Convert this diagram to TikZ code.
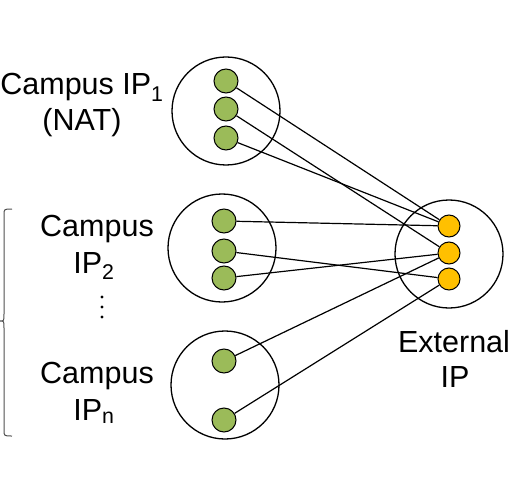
\documentclass[tikz,border=0pt]{standalone}
\usepackage{fontspec}
\setmainfont{Liberation Sans}
\definecolor{grn}{HTML}{9BBB59}
\definecolor{ylw}{HTML}{FFC000}
\definecolor{brc}{HTML}{505050}
\begin{document}
\begin{tikzpicture}[x=1bp,y=-1bp,
  group/.style={circle,draw=black,line width=1.3bp,minimum size=108bp,inner sep=0pt},
  gdot/.style={circle,draw=black,line width=1bp,fill=grn,minimum size=24bp,inner sep=0pt},
  ydot/.style={circle,draw=black,line width=1bp,fill=ylw,minimum size=22bp,inner sep=0pt},
  lbl/.style={anchor=base,inner sep=0pt,font=\fontsize{30.5bp}{36bp}\selectfont},
  link/.style={line width=1.2bp,black}]
\useasboundingbox (0,0) rectangle (527,486);
% group circles
\node[group] (c1) at (226,111) {};
\node[group] (c2) at (222,248) {};
\node[group] (c3) at (225,385) {};
\node[group] (ce) at (449,254) {};
% green nodes
\node[gdot] (g1a) at (226,81) {};
\node[gdot] (g1b) at (226,109) {};
\node[gdot] (g1c) at (226,138) {};
\node[gdot] (g2a) at (224,221) {};
\node[gdot] (g2b) at (224,251) {};
\node[gdot] (g2c) at (224,278) {};
\node[gdot] (g3a) at (224,361) {};
\node[gdot] (g3b) at (224,420) {};
% yellow nodes
\node[ydot] (y1) at (449,226) {};
\node[ydot] (y2) at (449,253) {};
\node[ydot] (y3) at (449,279) {};
% links
\draw[link] (g1a) -- (y1);
\draw[link] (g1b) -- (y2);
\draw[link] (g1c) -- (y1);
\draw[link] (g2a) -- (y1);
\draw[link] (g2b) -- (y3);
\draw[link] (g2c) -- (y2);
\draw[link] (g3a) -- (y2);
\draw[link] (g3b) -- (y3);
% labels
\node[lbl] (t1a) at (82,95) {Campus IP\textsubscript{1}};
\node[lbl] (t1b) at (82,131) {(NAT)};
\node[lbl] (t2a) at (97,236) {Campus};
\node[lbl] (t2b) at (94,273) {IP\textsubscript{2}};
\node[lbl] (t3a) at (97,383) {Campus};
\node[lbl] (t3b) at (94,420) {IP\textsubscript{n}};
\node[lbl] (te1) at (454,352) {External};
\node[lbl] (te2) at (455,387) {IP};
% vertical dots
\foreach \yy in {297,307,317} \fill (102,\yy) circle (1.6bp);
% brace
\draw[brc,line width=1bp] (12,209) .. controls (4,209) .. (4,215) -- (4,314) .. controls (4,321) .. (0,321)
  .. controls (4,321) .. (4,328) -- (4,430) .. controls (4,436) .. (12,436);
\end{tikzpicture}
\end{document}
